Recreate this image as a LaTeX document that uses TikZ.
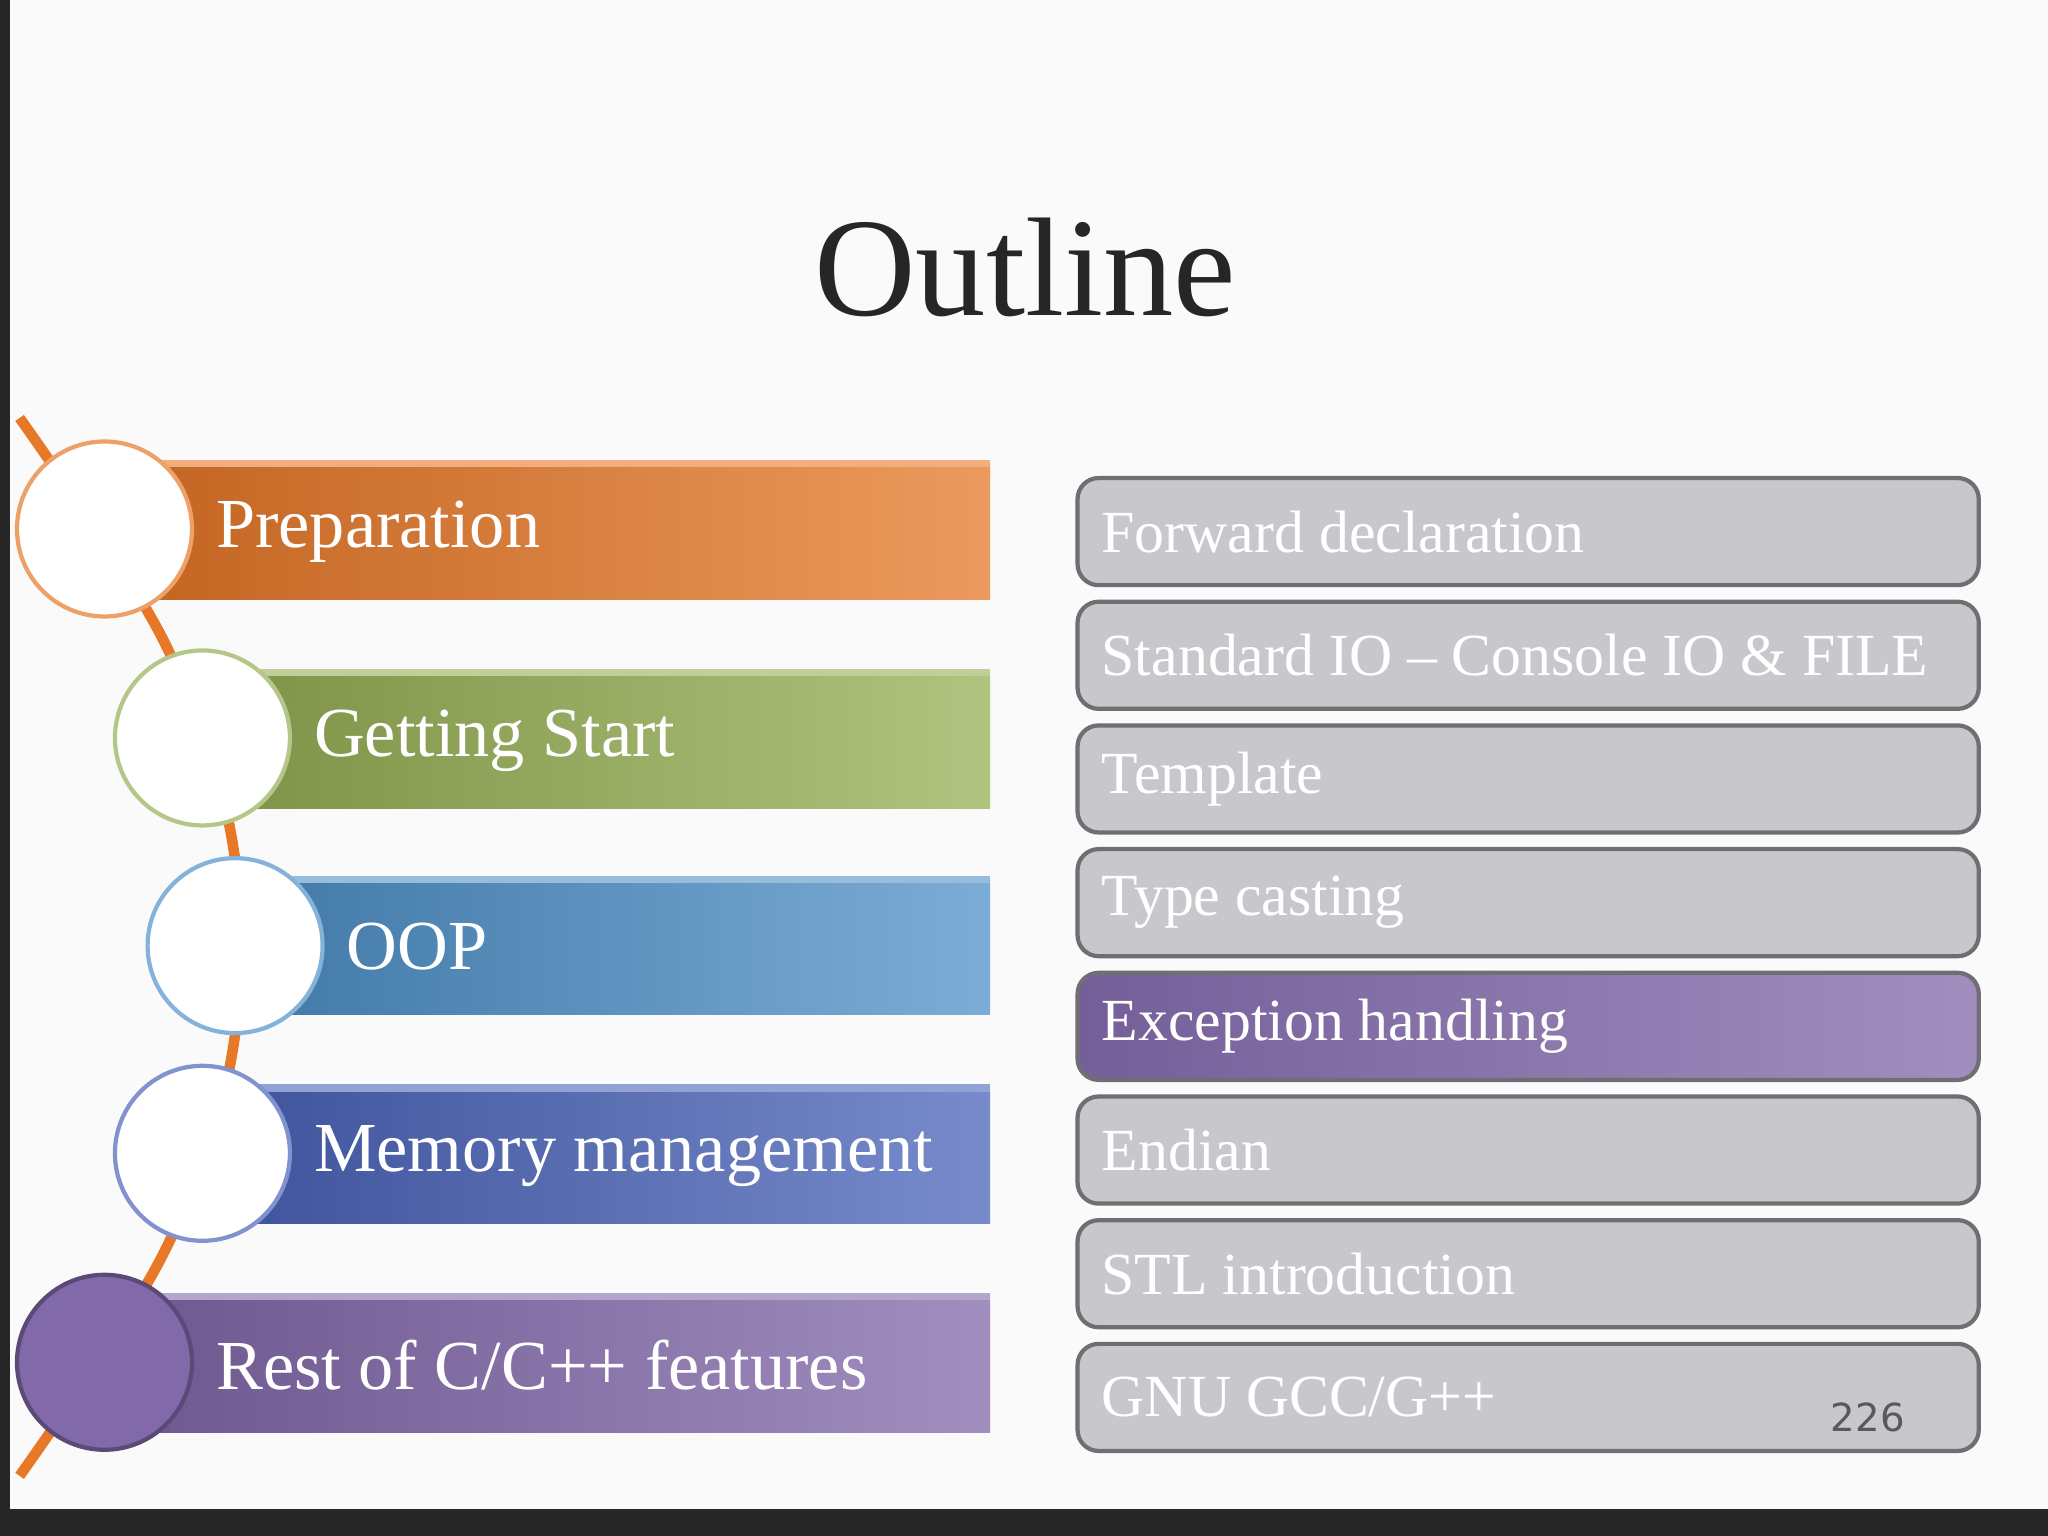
\documentclass[tikz,border=0pt]{standalone}
\usepackage{fontspec}
\setmainfont{Liberation Serif}
\setsansfont{DejaVu Sans}
\usetikzlibrary{positioning}
\definecolor{orangeC}{RGB}{230,120,40}
\definecolor{greenC}{RGB}{150,175,85}
\definecolor{blueC}{RGB}{80,145,200}
\definecolor{indigoC}{RGB}{75,100,185}
\definecolor{purpleC}{RGB}{130,105,170}
\definecolor{boxC}{RGB}{200,199,204}
\definecolor{edgeC}{RGB}{110,110,115}

\begin{document}
\begin{tikzpicture}[x=0.01306cm,y=-0.01306cm,
  ring_node/.style={circle,draw=#1,line width=1.2pt,fill=white,minimum size=1.75cm,inner sep=0pt},
  item_node/.style={rounded corners=6pt,draw=edgeC,line width=1.2pt,fill=boxC},
  item_text/.style={anchor=west,inner sep=0pt,font=\fontsize{17}{19}\selectfont,text=white}]

    \fill[white!96!gray] (0,0) rectangle (1568,1176);
    \fill[black!85] (0,0) rectangle (8,1176);
    \fill[black!85] (0,1155) rectangle (1568,1176);
    \useasboundingbox (0,0) rectangle (1568,1176);

    \node[font=\fontsize{40}{44}\selectfont,text=black!85] (title) at (785,205) {Outline};

    % spine behind the rings
    \draw[orangeC,line width=3pt] plot[smooth,tension=0.6] coordinates {(15,320) (125,490) (178,645) (178,805) (125,960) (15,1130)};

    % left bars
    \foreach \n/\x/\y/\c/\t in {1/115/407/orangeC/{Preparation}, 2/190/567/greenC/{Getting Start}, 3/215/725/blueC/{OOP}, 4/190/885/indigoC/{Memory management}, 5/115/1045/purpleC/{Rest of C/C++ features}}{
      \shade[left color=\c!85!black,right color=\c!75!white] (\x,\y-52) rectangle (758,\y+52);
      \draw[\c!60!white,line width=2pt] (\x,\y-52) -- (758,\y-52);
      \node[anchor=west,inner sep=0pt,font=\fontsize{20}{22}\selectfont,text=white] (bar\n) at (\x+50,\y) {\t};
    }
    \node[ring_node=orangeC!70] (r1) at (80,405) {};
    \node[ring_node=greenC!70] (r2) at (155,565) {};
    \node[ring_node=blueC!70] (r3) at (180,724) {};
    \node[ring_node=indigoC!70] (r4) at (155,883) {};
    \node[ring_node=purpleC!70!black,fill=purpleC] (r5) at (80,1043) {};

    % right list
    \foreach \n/\t in {0/{Forward declaration}, 1/{Standard IO -- Console IO \& FILE}, 2/{Template}, 3/{Type casting}, 5/{Endian}, 6/{STL introduction}, 7/{GNU GCC/G++}}{
      \draw[item_node] (825,366+94.7*\n) rectangle (1515,448+94.7*\n);
      \node[item_text] (item\n) at (843,407+94.7*\n) {\t};
    }
    \shade[rounded corners=6pt,draw=edgeC,line width=1.2pt,left color=purpleC!90!black,right color=purpleC!75!white] (825,366+94.7*4) rectangle (1515,448+94.7*4);
    \node[item_text] (item4) at (843,407+94.7*4) {Exception handling};

    \node[font=\sffamily\fontsize{11}{12}\selectfont,text=black!65] (page) at (1430,1085) {226};
\end{tikzpicture}
\end{document}
